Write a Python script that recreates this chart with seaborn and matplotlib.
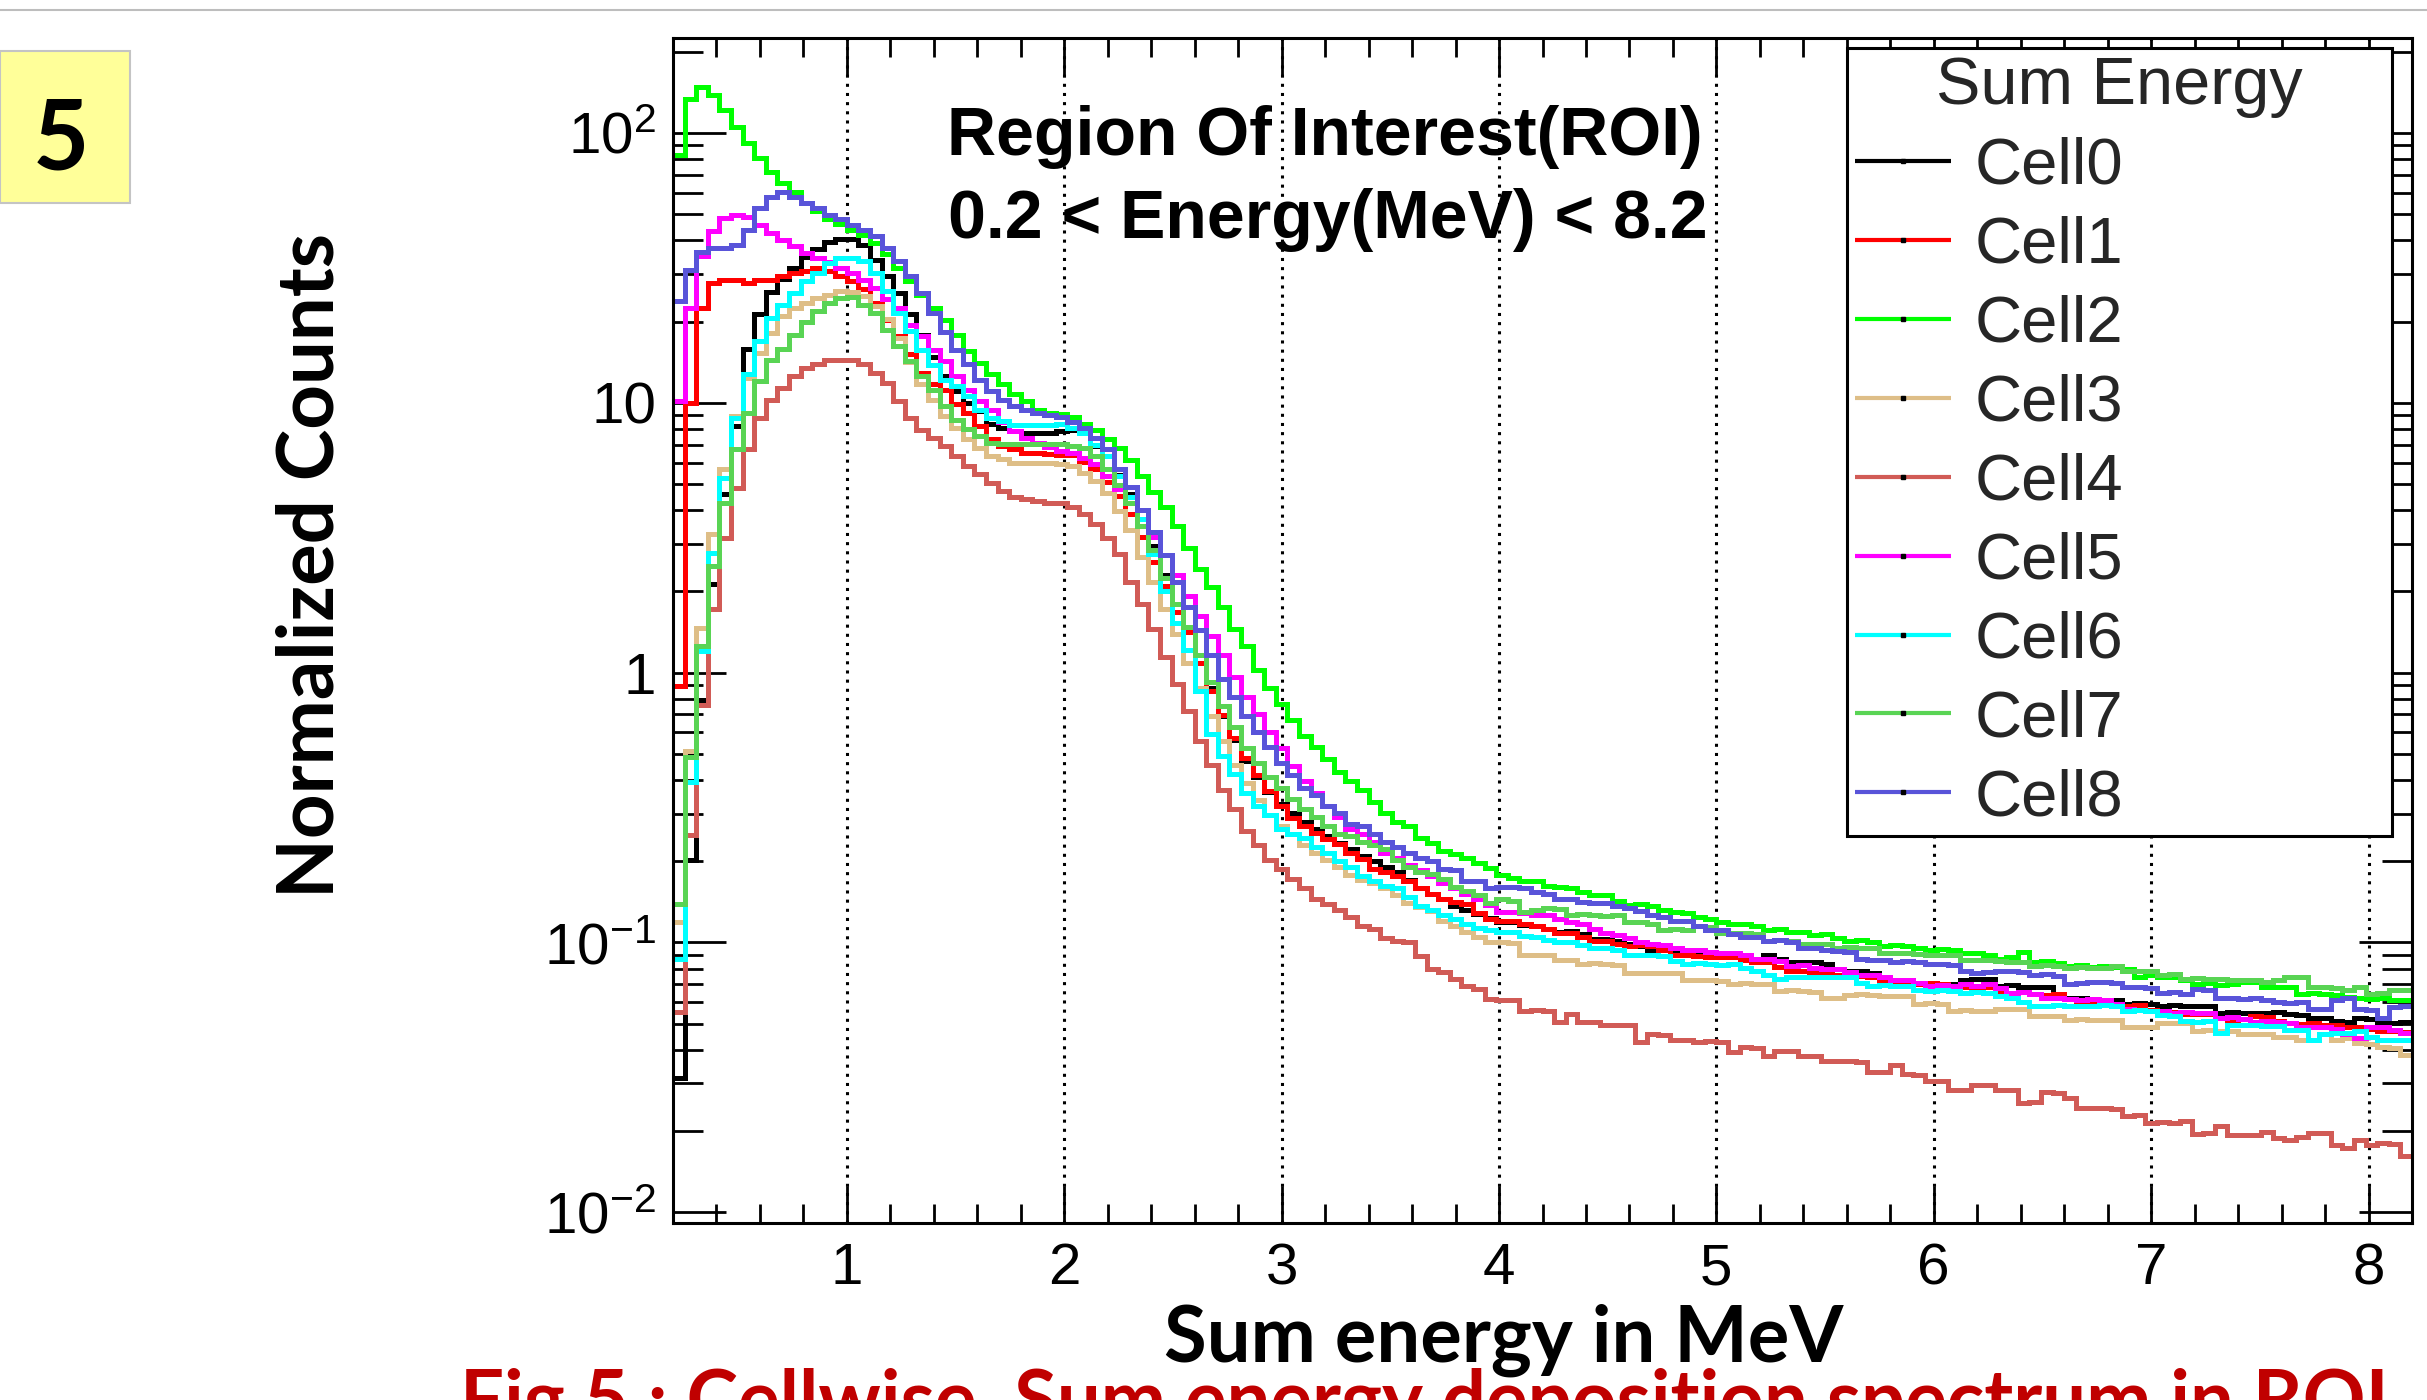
import numpy as np
import pandas as pd
import matplotlib
matplotlib.use("Agg")
import matplotlib.pyplot as plt
from matplotlib.patches import Rectangle
from matplotlib.lines import Line2D
from matplotlib.ticker import FixedLocator, FixedFormatter, NullFormatter, MultipleLocator, LogLocator
import seaborn as sns

# ---------------- data ----------------
CELLS = ["Cell0", "Cell1", "Cell2", "Cell3", "Cell4", "Cell5", "Cell6", "Cell7", "Cell8"]
E_MIN, E_MAX, N_BINS = 0.2, 8.2, 150
X_TICKS = [1, 2, 3, 4, 5, 6, 7, 8]
Y_TICKS = [0.01, 0.1, 1, 10, 100]
Y_TICK_LABELS = [r"$\mathregular{10^{-2}}$", r"$\mathregular{10^{-1}}$", "1", "10", r"$\mathregular{10^{2}}$"]

# log10(normalized counts) for each bin
LOG_CELL0 = [
    -1.503, -0.696, -0.100, 0.328, 0.661, 0.913, 1.200, 1.330, 1.410, 1.460,
    1.500, 1.540, 1.570, 1.595, 1.608, 1.608, 1.586, 1.530, 1.469, 1.407,
    1.330, 1.250, 1.170, 1.099, 1.043, 1.000, 0.969, 0.920, 0.907, 0.895,
    0.889, 0.889, 0.889, 0.894, 0.900, 0.887, 0.840, 0.801, 0.734, 0.661,
    0.570, 0.470, 0.363, 0.256, 0.157, 0.064, -0.056, -0.162, -0.248, -0.328,
    -0.388, -0.441, -0.488, -0.521, -0.554, -0.580, -0.607, -0.633, -0.653, -0.680,
    -0.700, -0.720, -0.740, -0.770, -0.800, -0.820, -0.840, -0.866, -0.880, -0.893,
    -0.910, -0.926, -0.926, -0.935, -0.940, -0.950, -0.960, -0.958, -0.970, -0.987,
    -0.987, -0.995, -1.007, -1.015, -1.027, -1.027, -1.040, -1.047, -1.045, -1.047,
    -1.050, -1.047, -1.060, -1.067, -1.047, -1.060, -1.074, -1.072, -1.074, -1.080,
    -1.100, -1.107, -1.105, -1.115, -1.140, -1.138, -1.140, -1.154, -1.150, -1.154,
    -1.155, -1.140, -1.134, -1.135, -1.160, -1.158, -1.167, -1.165, -1.167, -1.207,
    -1.205, -1.207, -1.214, -1.212, -1.214, -1.227, -1.225, -1.227, -1.234, -1.232,
    -1.234, -1.236, -1.234, -1.260, -1.258, -1.260, -1.260, -1.262, -1.257, -1.265,
    -1.270, -1.282, -1.280, -1.290, -1.294, -1.282, -1.285, -1.300, -1.297, -1.294,
]
LOG_CELL1 = [
    -0.048, 1.000, 1.351, 1.444, 1.456, 1.456, 1.444, 1.456, 1.456, 1.469,
    1.481, 1.490, 1.500, 1.490, 1.470, 1.450, 1.420, 1.370, 1.308, 1.247,
    1.180, 1.111, 1.070, 1.049, 0.994, 0.963, 0.913, 0.864, 0.840, 0.827,
    0.815, 0.815, 0.809, 0.807, 0.807, 0.780, 0.753, 0.708, 0.655, 0.588,
    0.502, 0.410, 0.320, 0.223, 0.150, 0.037, -0.069, -0.156, -0.242, -0.315,
    -0.381, -0.440, -0.494, -0.540, -0.567, -0.594, -0.615, -0.635, -0.667, -0.690,
    -0.727, -0.740, -0.753, -0.773, -0.800, -0.820, -0.839, -0.850, -0.859, -0.892,
    -0.912, -0.920, -0.920, -0.930, -0.940, -0.950, -0.967, -0.965, -0.980, -0.993,
    -0.993, -1.005, -1.013, -1.010, -1.015, -1.030, -1.047, -1.045, -1.050, -1.053,
    -1.053, -1.055, -1.065, -1.074, -1.072, -1.090, -1.107, -1.105, -1.110, -1.114,
    -1.120, -1.127, -1.125, -1.130, -1.145, -1.154, -1.150, -1.154, -1.152, -1.155,
    -1.160, -1.167, -1.165, -1.167, -1.180, -1.187, -1.185, -1.190, -1.194, -1.192,
    -1.210, -1.220, -1.218, -1.222, -1.230, -1.234, -1.232, -1.250, -1.260, -1.258,
    -1.265, -1.267, -1.265, -1.280, -1.287, -1.285, -1.274, -1.276, -1.290, -1.300,
    -1.302, -1.300, -1.305, -1.307, -1.312, -1.314, -1.320, -1.328, -1.330, -1.331,
]
LOG_CELL2 = [
    1.919, 2.125, 2.171, 2.141, 2.085, 2.023, 1.962, 1.906, 1.857, 1.814,
    1.783, 1.740, 1.710, 1.682, 1.662, 1.641, 1.620, 1.594, 1.550, 1.500,
    1.450, 1.400, 1.350, 1.308, 1.253, 1.191, 1.148, 1.105, 1.068, 1.031,
    1.006, 0.975, 0.963, 0.960, 0.947, 0.920, 0.900, 0.867, 0.834, 0.787,
    0.728, 0.668, 0.615, 0.542, 0.462, 0.383, 0.316, 0.243, 0.163, 0.097,
    0.011, -0.056, -0.115, -0.175, -0.235, -0.275, -0.321, -0.368, -0.401, -0.434,
    -0.481, -0.521, -0.554, -0.567, -0.614, -0.633, -0.660, -0.673, -0.686, -0.706,
    -0.726, -0.750, -0.760, -0.773, -0.773, -0.790, -0.793, -0.800, -0.815, -0.826,
    -0.826, -0.845, -0.860, -0.858, -0.865, -0.880, -0.886, -0.890, -0.905, -0.913,
    -0.925, -0.933, -0.930, -0.940, -0.953, -0.950, -0.960, -0.960, -0.973, -0.970,
    -0.985, -0.993, -0.990, -1.000, -1.013, -1.010, -1.015, -1.020, -1.027, -1.025,
    -1.030, -1.040, -1.038, -1.045, -1.060, -1.055, -1.036, -1.074, -1.070, -1.078,
    -1.087, -1.085, -1.090, -1.087, -1.092, -1.100, -1.127, -1.120, -1.130, -1.127,
    -1.140, -1.154, -1.150, -1.158, -1.155, -1.147, -1.148, -1.167, -1.165, -1.167,
    -1.190, -1.187, -1.190, -1.195, -1.202, -1.207, -1.210, -1.207, -1.212, -1.214,
]
LOG_CELL3 = [
    -0.924, -0.289, 0.167, 0.513, 0.753, 0.950, 1.090, 1.185, 1.260, 1.320,
    1.350, 1.370, 1.388, 1.400, 1.413, 1.410, 1.395, 1.360, 1.310, 1.240,
    1.150, 1.068, 1.012, 0.951, 0.907, 0.864, 0.833, 0.803, 0.790, 0.778,
    0.778, 0.778, 0.778, 0.774, 0.766, 0.741, 0.710, 0.664, 0.600, 0.530,
    0.428, 0.336, 0.236, 0.143, 0.037, -0.056, -0.162, -0.255, -0.341, -0.408,
    -0.474, -0.527, -0.567, -0.600, -0.640, -0.667, -0.693, -0.720, -0.750, -0.770,
    -0.780, -0.800, -0.826, -0.853, -0.870, -0.885, -0.919, -0.939, -0.960, -0.980,
    -1.000, -1.000, -1.002, -1.047, -1.045, -1.047, -1.067, -1.065, -1.080, -1.078,
    -1.080, -1.082, -1.114, -1.112, -1.114, -1.115, -1.114, -1.140, -1.138, -1.140,
    -1.142, -1.154, -1.152, -1.154, -1.155, -1.180, -1.178, -1.180, -1.182, -1.207,
    -1.207, -1.194, -1.192, -1.194, -1.200, -1.198, -1.200, -1.227, -1.225, -1.227,
    -1.254, -1.252, -1.254, -1.256, -1.247, -1.245, -1.247, -1.274, -1.272, -1.274,
    -1.287, -1.285, -1.287, -1.289, -1.287, -1.314, -1.312, -1.314, -1.300, -1.298,
    -1.300, -1.328, -1.326, -1.328, -1.330, -1.341, -1.339, -1.341, -1.350, -1.352,
    -1.362, -1.360, -1.340, -1.360, -1.356, -1.374, -1.376, -1.387, -1.390, -1.418,
]
LOG_CELL4 = [
    -1.257, -0.603, -0.120, 0.235, 0.500, 0.685, 0.827, 0.945, 1.012, 1.055,
    1.099, 1.130, 1.142, 1.160, 1.160, 1.160, 1.142, 1.111, 1.074, 1.006,
    0.945, 0.900, 0.870, 0.840, 0.803, 0.766, 0.735, 0.704, 0.673, 0.650,
    0.642, 0.635, 0.630, 0.628, 0.615, 0.587, 0.552, 0.500, 0.440, 0.336,
    0.256, 0.163, 0.057, -0.043, -0.142, -0.255, -0.341, -0.434, -0.507, -0.587,
    -0.640, -0.693, -0.727, -0.766, -0.800, -0.839, -0.859, -0.879, -0.906, -0.939,
    -0.952, -0.985, -0.995, -1.000, -1.050, -1.098, -1.110, -1.136, -1.160, -1.174,
    -1.210, -1.214, -1.214, -1.254, -1.252, -1.254, -1.294, -1.267, -1.294, -1.296,
    -1.307, -1.305, -1.307, -1.368, -1.341, -1.343, -1.361, -1.360, -1.368, -1.366,
    -1.368, -1.408, -1.388, -1.390, -1.421, -1.401, -1.403, -1.421, -1.420, -1.441,
    -1.440, -1.441, -1.443, -1.481, -1.480, -1.455, -1.488, -1.490, -1.515, -1.513,
    -1.548, -1.546, -1.528, -1.530, -1.548, -1.546, -1.595, -1.593, -1.555, -1.557,
    -1.575, -1.615, -1.613, -1.615, -1.617, -1.642, -1.640, -1.668, -1.666, -1.668,
    -1.662, -1.709, -1.707, -1.682, -1.715, -1.713, -1.715, -1.702, -1.726, -1.732,
    -1.720, -1.707, -1.707, -1.750, -1.763, -1.732, -1.750, -1.744, -1.746, -1.793,
]
LOG_CELL5 = [
    1.006, 1.351, 1.543, 1.635, 1.684, 1.697, 1.690, 1.660, 1.629, 1.604,
    1.580, 1.555, 1.536, 1.520, 1.500, 1.481, 1.456, 1.425, 1.385, 1.351,
    1.290, 1.247, 1.197, 1.154, 1.099, 1.049, 1.006, 0.975, 0.930, 0.895,
    0.870, 0.850, 0.835, 0.821, 0.814, 0.794, 0.774, 0.728, 0.681, 0.628,
    0.568, 0.502, 0.435, 0.362, 0.283, 0.210, 0.137, 0.064, -0.016, -0.089,
    -0.155, -0.222, -0.281, -0.348, -0.401, -0.448, -0.494, -0.534, -0.580, -0.600,
    -0.627, -0.667, -0.687, -0.713, -0.733, -0.753, -0.780, -0.800, -0.820, -0.840,
    -0.860, -0.886, -0.886, -0.890, -0.900, -0.900, -0.915, -0.926, -0.930, -0.950,
    -0.965, -0.973, -0.985, -1.000, -1.007, -1.010, -1.020, -1.027, -1.030, -1.035,
    -1.040, -1.040, -1.045, -1.060, -1.060, -1.070, -1.087, -1.085, -1.095, -1.100,
    -1.100, -1.110, -1.120, -1.120, -1.130, -1.140, -1.140, -1.150, -1.160, -1.158,
    -1.160, -1.156, -1.160, -1.155, -1.170, -1.187, -1.185, -1.190, -1.207, -1.205,
    -1.210, -1.214, -1.210, -1.214, -1.230, -1.247, -1.250, -1.254, -1.255, -1.260,
    -1.258, -1.262, -1.260, -1.280, -1.278, -1.285, -1.294, -1.290, -1.294, -1.300,
    -1.313, -1.313, -1.314, -1.320, -1.340, -1.356, -1.313, -1.315, -1.325, -1.334,
]
LOG_CELL6 = [
    -1.060, -0.406, 0.081, 0.445, 0.722, 0.945, 1.105, 1.228, 1.314, 1.364,
    1.407, 1.450, 1.481, 1.518, 1.536, 1.536, 1.524, 1.481, 1.413, 1.333,
    1.265, 1.197, 1.140, 1.086, 1.061, 1.025, 0.975, 0.944, 0.932, 0.916,
    0.916, 0.916, 0.916, 0.920, 0.905, 0.887, 0.845, 0.801, 0.728, 0.650,
    0.568, 0.440, 0.303, 0.183, 0.084, -0.070, -0.229, -0.308, -0.375, -0.448,
    -0.494, -0.527, -0.580, -0.600, -0.613, -0.647, -0.667, -0.700, -0.720, -0.753,
    -0.773, -0.790, -0.800, -0.833, -0.866, -0.880, -0.900, -0.915, -0.930, -0.945,
    -0.955, -0.960, -0.962, -0.975, -0.980, -0.990, -1.000, -1.000, -1.010, -1.020,
    -1.020, -1.030, -1.047, -1.045, -1.047, -1.050, -1.070, -1.080, -1.078, -1.080,
    -1.082, -1.080, -1.095, -1.107, -1.120, -1.134, -1.130, -1.127, -1.127, -1.130,
    -1.127, -1.130, -1.150, -1.160, -1.158, -1.160, -1.160, -1.175, -1.180, -1.178,
    -1.180, -1.187, -1.185, -1.187, -1.200, -1.207, -1.220, -1.234, -1.234, -1.232,
    -1.234, -1.236, -1.234, -1.232, -1.234, -1.254, -1.252, -1.254, -1.270, -1.274,
    -1.290, -1.294, -1.292, -1.334, -1.307, -1.305, -1.307, -1.310, -1.310, -1.325,
    -1.325, -1.362, -1.340, -1.337, -1.337, -1.330, -1.350, -1.362, -1.360, -1.362,
]
LOG_CELL7 = [
    -0.856, -0.313, 0.100, 0.395, 0.630, 0.827, 0.963, 1.080, 1.160, 1.200,
    1.250, 1.300, 1.340, 1.370, 1.390, 1.392, 1.364, 1.333, 1.271, 1.210,
    1.154, 1.099, 1.049, 0.988, 0.938, 0.901, 0.877, 0.852, 0.846, 0.846,
    0.846, 0.846, 0.846, 0.847, 0.840, 0.834, 0.801, 0.754, 0.694, 0.628,
    0.542, 0.456, 0.349, 0.256, 0.170, 0.064, -0.036, -0.122, -0.202, -0.281,
    -0.335, -0.388, -0.428, -0.467, -0.507, -0.534, -0.567, -0.600, -0.607, -0.627,
    -0.640, -0.654, -0.693, -0.720, -0.740, -0.747, -0.766, -0.793, -0.810, -0.826,
    -0.853, -0.840, -0.845, -0.886, -0.880, -0.873, -0.875, -0.900, -0.895, -0.900,
    -0.902, -0.900, -0.926, -0.925, -0.930, -0.953, -0.950, -0.953, -0.940, -0.942,
    -0.967, -0.965, -0.967, -0.970, -0.993, -0.990, -0.993, -1.007, -1.005, -1.007,
    -1.020, -1.018, -1.020, -1.022, -1.040, -1.038, -1.040, -1.042, -1.047, -1.045,
    -1.047, -1.067, -1.065, -1.067, -1.068, -1.074, -1.072, -1.087, -1.085, -1.087,
    -1.094, -1.092, -1.094, -1.095, -1.087, -1.107, -1.105, -1.107, -1.120, -1.118,
    -1.134, -1.132, -1.134, -1.135, -1.140, -1.138, -1.140, -1.147, -1.140, -1.128,
    -1.128, -1.165, -1.165, -1.170, -1.177, -1.165, -1.190, -1.188, -1.177, -1.177,
]
LOG_CELL8 = [
    1.376, 1.493, 1.557, 1.573, 1.573, 1.586, 1.641, 1.721, 1.764, 1.780,
    1.764, 1.742, 1.721, 1.697, 1.681, 1.660, 1.641, 1.617, 1.573, 1.524,
    1.469, 1.407, 1.333, 1.261, 1.197, 1.142, 1.086, 1.043, 1.012, 0.988,
    0.975, 0.963, 0.955, 0.947, 0.930, 0.905, 0.870, 0.827, 0.754, 0.688,
    0.602, 0.522, 0.436, 0.336, 0.243, 0.157, 0.064, -0.022, -0.089, -0.162,
    -0.222, -0.275, -0.335, -0.381, -0.428, -0.454, -0.494, -0.521, -0.560, -0.567,
    -0.600, -0.627, -0.647, -0.667, -0.687, -0.700, -0.727, -0.733, -0.773, -0.773,
    -0.800, -0.793, -0.793, -0.800, -0.813, -0.820, -0.840, -0.840, -0.850, -0.853,
    -0.853, -0.865, -0.873, -0.885, -0.900, -0.905, -0.920, -0.920, -0.940, -0.953,
    -0.953, -0.970, -0.980, -0.980, -0.993, -0.990, -1.000, -1.020, -1.020, -1.030,
    -1.033, -1.035, -1.060, -1.067, -1.065, -1.074, -1.070, -1.074, -1.080, -1.080,
    -1.085, -1.105, -1.114, -1.110, -1.107, -1.105, -1.110, -1.120, -1.118, -1.125,
    -1.154, -1.150, -1.147, -1.145, -1.150, -1.167, -1.165, -1.170, -1.187, -1.185,
    -1.190, -1.174, -1.175, -1.207, -1.205, -1.210, -1.207, -1.212, -1.220, -1.226,
    -1.222, -1.245, -1.247, -1.214, -1.207, -1.245, -1.250, -1.282, -1.240, -1.234,
]
LOG_SERIES = [LOG_CELL0, LOG_CELL1, LOG_CELL2, LOG_CELL3, LOG_CELL4,
              LOG_CELL5, LOG_CELL6, LOG_CELL7, LOG_CELL8]

COLORS = {"Cell0": "#000000", "Cell1": "#ff0000", "Cell2": "#00ff00",
          "Cell3": "#debe87", "Cell4": "#d15b56", "Cell5": "#ff00ff",
          "Cell6": "#00ffff", "Cell7": "#59d454", "Cell8": "#5954d9"}

for s in LOG_SERIES:
    assert len(s) == N_BINS, len(s)

# ---------------- long-form table ----------------
edges = np.linspace(E_MIN, E_MAX, N_BINS + 1)
frames = []
for name, logs in zip(CELLS, LOG_SERIES):
    vals = 10.0 ** np.asarray(logs)
    frames.append(pd.DataFrame({"E": edges, "counts": np.append(vals, vals[-1]), "cell": name}))
df = pd.concat(frames, ignore_index=True)

# ---------------- style ----------------
sns.set_theme(style="ticks")
plt.rcParams["font.family"] = ["Liberation Sans", "DejaVu Sans"]
plt.rcParams["mathtext.fontset"] = "custom"
plt.rcParams["mathtext.rm"] = "Liberation Sans"
plt.rcParams["mathtext.it"] = "Liberation Sans:italic"
plt.rcParams["mathtext.bf"] = "Liberation Sans:bold"

W, H = 2427, 1400
fig = plt.figure(figsize=(W / 100, H / 100), dpi=100)
fig.patch.set_facecolor("white")

AX_L, AX_R, AX_T, AX_B = 673, 2412, 38, 1223
ax = fig.add_axes([AX_L / W, 1 - AX_B / H, (AX_R - AX_L) / W, (AX_B - AX_T) / H])
ax.set_facecolor("white")

sns.lineplot(data=df, x="E", y="counts", hue="cell", hue_order=CELLS, palette=COLORS,
             estimator=None, legend=False, ax=ax, drawstyle="steps-post",
             linewidth=3.6, solid_joinstyle="miter", solid_capstyle="butt")

ax.set_yscale("log")
ax.set_xlim(E_MIN, E_MAX)
ax.set_ylim(10 ** -2.04, 10 ** 2.352)
ax.set_xlabel("")
ax.set_ylabel("")

ax.xaxis.set_major_locator(FixedLocator(X_TICKS))
ax.xaxis.set_major_formatter(FixedFormatter([str(t) for t in X_TICKS]))
ax.xaxis.set_minor_locator(MultipleLocator(0.2))
ax.yaxis.set_major_locator(FixedLocator(Y_TICKS))
ax.yaxis.set_major_formatter(FixedFormatter(Y_TICK_LABELS))
ax.yaxis.set_minor_locator(LogLocator(base=10, subs=np.arange(2, 10), numticks=30))
ax.yaxis.set_minor_formatter(NullFormatter())

ax.tick_params(which="both", direction="in", top=True, right=True, width=2.0,
               color="black", labelcolor="black")
ax.tick_params(axis="x", which="major", length=27, pad=14, labelsize=42)
ax.tick_params(axis="x", which="minor", length=14)
ax.tick_params(axis="y", which="major", length=38, pad=12, labelsize=42)
ax.tick_params(axis="y", which="minor", length=21.6)
for sp in ax.spines.values():
    sp.set_linewidth(2.2)
    sp.set_color("black")

ax.grid(True, axis="x", which="major", color="black", linestyle=(0, (1, 2)), linewidth=2.2)
ax.grid(False, axis="y")
ax.set_axisbelow(True)

# ---------------- legend ----------------
handles = [Line2D([], [], color=COLORS[c], lw=3.0, solid_capstyle="butt",
                  marker="s", markersize=2.2, markerfacecolor="black",
                  markeredgecolor="black") for c in CELLS]
leg = ax.legend(handles, CELLS, title="Sum Energy", loc="upper left",
                bbox_to_anchor=(1847 / W, 1 - 48 / H, (2392 - 1847) / W, 0),
                bbox_transform=fig.transFigure, mode="expand", borderaxespad=0,
                fontsize=47, title_fontsize=48, frameon=True, fancybox=False,
                edgecolor="black", facecolor="white", framealpha=1, numpoints=1,
                handlelength=1.47, handletextpad=0.36, labelspacing=0.29, borderpad=0.12)
leg.get_frame().set_linewidth(2.2)

# ---------------- annotation texts ----------------
fig.text(1325 / W, 1 - 155 / H, "Region Of Interest(ROI)", ha="center", va="baseline",
         fontsize=49, fontweight="bold", color="black")
fig.text(1328 / W, 1 - 238 / H, "0.2 < Energy(MeV) < 8.2", ha="center", va="baseline",
         fontsize=49, fontweight="bold", color="black")

# ---------------- slide decorations ----------------
fig.add_artist(Line2D([0, 1], [1 - 10 / H, 1 - 10 / H], transform=fig.transFigure,
                      color="#bdbdbd", lw=1.5))
fig.add_artist(Rectangle((0, 1 - 203 / H), 130 / W, 152 / H, transform=fig.transFigure,
                         facecolor="#ffff99", edgecolor="#c4c4c4", lw=1.5))
fig.text(61 / W, 1 - 170 / H, "5", ha="center", va="baseline", fontsize=70,
         fontweight="bold", family=["Lato", "DejaVu Sans"], color="black")

fig.text(333 / W, 1 - 565 / H, "Normalized Counts", rotation=90, rotation_mode="anchor",
         ha="center", va="baseline", fontsize=56, fontweight="bold",
         family=["Lato", "DejaVu Sans"], color="black")
fig.text(1504 / W, 1 - 1362 / H, "Sum energy in MeV", ha="center", va="baseline",
         fontsize=56, fontweight="bold", family=["Lato", "DejaVu Sans"], color="black")
fig.text(460 / W, 1 - 1426 / H, "Fig 5 : Cellwise  Sum energy deposition spectrum in ROI",
         ha="left", va="baseline", fontsize=56, fontweight="bold",
         family=["Lato", "DejaVu Sans"], color="#c00000")

fig.savefig("out.png", dpi=100, facecolor="white")
